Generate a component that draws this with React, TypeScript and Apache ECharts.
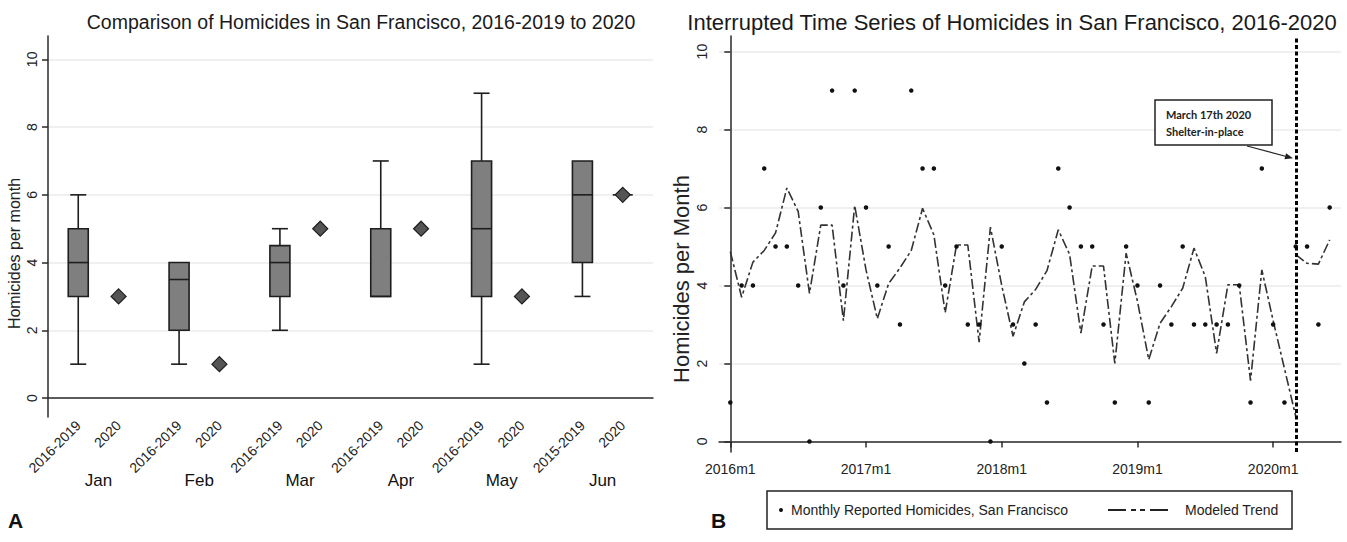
import React, { useEffect, useRef } from "react";
import * as echarts from "echarts";

// ---------- Panel A: box plots by month ----------
const monthNames = ["Jan", "Feb", "Mar", "Apr", "May", "Jun"];
const periodLabels = ["2016-2019", "2016-2019", "2016-2019", "2016-2019", "2016-2019", "2015-2019"];
const currentLabel = "2020";
const boxMin = [1, 1, 2, 3, 1, 3];
const boxQ1 = [3, 2, 3, 3, 3, 4];
const boxMedian = [4, 3.5, 4, 3, 5, 6];
const boxQ3 = [5, 4, 4.5, 5, 7, 7];
const boxMax = [6, 4, 5, 7, 9, 7];
const values2020 = [3, 1, 5, 5, 3, 6];
const yTicks = [0, 2, 4, 6, 8, 10];

// ---------- Panel B: interrupted time series ----------
const yearTickLabels = ["2016m1", "2017m1", "2018m1", "2019m1", "2020m1"];
const yearTickMonths = [0, 12, 24, 36, 48];
// months since 2016m1 (0 = 2016m1 ... 53 = 2020m6)
const monthlyHomicides = [
  1, 4, 4, 7, 5, 5, 4, 0, 6, 9, 4, 9,
  6, 4, 5, 3, 9, 7, 7, 4, 5, 3, 3, 0,
  5, 3, 2, 3, 1, 7, 6, 5, 5, 3, 1, 5,
  4, 1, 4, 3, 5, 3, 3, 3, 3, 4, 1, 7,
  3, 1, 5, 5, 3, 6,
];
const trendPre = [
  4.87, 3.7, 4.6, 4.9, 5.35, 6.5, 5.9, 3.8, 5.55, 5.55, 3.1, 6.05,
  4.4, 3.15, 4.05, 4.45, 4.9, 5.98, 5.3, 3.3, 5.04, 5.04, 2.55, 5.5,
  4.0, 2.7, 3.58, 3.9, 4.38, 5.43, 4.8, 2.78, 4.5, 4.5, 2.0, 4.83,
  3.6, 2.1, 3.03, 3.46, 3.93, 4.96, 4.23, 2.26, 4.02, 4.02, 1.56, 4.4,
  3.1, 1.87, 0.64,
];
const trendPost = [4.79, 4.57, 4.55, 5.17];
const shelterMonth = 50;

const SLOTS = 30;
const FONT = "'Liberation Sans', Arial, Helvetica, sans-serif";

export default function App() {
  const ref = useRef<HTMLDivElement>(null);

  useEffect(() => {
    if (!ref.current) return;
    const chart = echarts.init(ref.current, null, { renderer: "svg" });

    const slotIds = Array.from({ length: SLOTS }, (_, i) => "s" + i);
    const slotText: string[] = Array(SLOTS).fill("");
    const monthText: string[] = Array(SLOTS).fill("");
    monthNames.forEach((m, g) => {
      slotText[1 + 5 * g] = periodLabels[g];
      slotText[3 + 5 * g] = currentLabel;
      monthText[2 + 5 * g] = m;
    });

    const boxData = monthNames.map((_, g) => [1 + 5 * g, boxMin[g], boxQ1[g], boxMedian[g], boxQ3[g], boxMax[g]]);
    const diamondData = values2020.map((v, g) => [3 + 5 * g, v]);
    const junLine = [[3 + 5 * 5, values2020[5]]];

    const scatterData = monthlyHomicides.map((v, i) => [i, v]);
    const preData = trendPre.map((v, i) => [i, v]);
    const postData = trendPost.map((v, i) => [shelterMonth + i, v]);

    const axisLineStyle = { color: "#2a2a2a", width: 1.5 };
    const gridLine = { show: true, lineStyle: { color: "#ebebeb", width: 1.5 } };

    const option: any = {
      animation: false,
      backgroundColor: "#ffffff",
      textStyle: { fontFamily: FONT },
      title: [
        {
          text: "Comparison of Homicides in San Francisco, 2016-2019 to 2020",
          left: 356,
          top: 7,
          textAlign: "center",
          textStyle: { fontFamily: FONT, fontSize: 19.5, fontWeight: "normal", color: "#1a1a1a" },
        },
        {
          text: "Interrupted Time Series of Homicides in San Francisco, 2016-2020",
          left: 1007,
          top: 6,
          textAlign: "center",
          textStyle: { fontFamily: FONT, fontSize: 22, fontWeight: "normal", color: "#1a1a1a" },
        },
      ],
      grid: [
        { left: 48, top: 36, width: 605, height: 381, containLabel: false },
        { left: 719, top: 36, width: 622, height: 416, containLabel: false },
      ],
      xAxis: [
        {
          type: "category",
          gridIndex: 0,
          data: slotIds,
          boundaryGap: true,
          axisLine: { lineStyle: axisLineStyle },
          axisTick: { show: false },
          splitLine: { show: false },
          axisLabel: {
            interval: 0,
            rotate: 45,
            margin: 6,
            fontSize: 14,
            color: "#222",
            fontFamily: FONT,
            formatter: (_v: string, i: number) => slotText[i],
          },
        },
        {
          type: "category",
          gridIndex: 0,
          data: slotIds,
          boundaryGap: true,
          position: "bottom",
          axisLine: { show: false },
          axisTick: { show: false },
          splitLine: { show: false },
          axisLabel: {
            interval: 0,
            margin: 55,
            fontSize: 17,
            color: "#111",
            fontFamily: FONT,
            formatter: (_v: string, i: number) => monthText[i],
          },
        },
        {
          type: "value",
          gridIndex: 1,
          min: -1,
          max: 54,
          axisLine: { lineStyle: axisLineStyle },
          axisTick: { show: true, length: 6, customValues: yearTickMonths, lineStyle: { color: "#2a2a2a", width: 1.5 } },
          splitLine: { show: false },
          axisLabel: {
            customValues: yearTickMonths,
            margin: 10,
            fontSize: 14,
            color: "#222",
            fontFamily: FONT,
            formatter: (v: number) => yearTickLabels[yearTickMonths.indexOf(v)] ?? "",
          },
        },
      ],
      yAxis: [
        {
          type: "value",
          gridIndex: 0,
          min: -0.56,
          max: 10.69,
          name: "Homicides per month",
          nameLocation: "middle",
          nameGap: 26,
          nameRotate: 90,
          nameTextStyle: { fontSize: 16, color: "#222", fontFamily: FONT, padding: [0, 54, 0, 0] },
          axisLine: { show: true, lineStyle: axisLineStyle },
          axisTick: { show: true, length: 6, customValues: yTicks, lineStyle: { color: "#2a2a2a", width: 1.5 } },
          splitLine: gridLine,
          axisLabel: {
            customValues: yTicks,
            rotate: 90,
            margin: 9,
            fontSize: 14,
            color: "#222",
            fontFamily: FONT,
          },
        },
        {
          type: "value",
          gridIndex: 1,
          min: -0.27,
          max: 10.4,
          name: "Homicides per Month",
          nameLocation: "middle",
          nameGap: 27,
          nameRotate: 90,
          nameTextStyle: { fontSize: 22, color: "#222", fontFamily: FONT, padding: [0, 70, 0, 0] },
          axisLine: { show: true, lineStyle: axisLineStyle },
          axisTick: { show: true, length: 6, customValues: yTicks, lineStyle: { color: "#2a2a2a", width: 1.5 } },
          splitLine: gridLine,
          axisLabel: {
            customValues: yTicks,
            rotate: 90,
            margin: 10,
            fontSize: 14,
            color: "#222",
            fontFamily: FONT,
          },
        },
      ],
      series: [
        {
          type: "custom",
          name: "2016-2019",
          xAxisIndex: 0,
          yAxisIndex: 0,
          data: boxData,
          encode: { x: 0, y: [1, 2, 3, 4, 5] },
          renderItem: (_params: any, api: any) => {
            const x = api.value(0);
            const mn = api.coord([x, api.value(1)]);
            const q1 = api.coord([x, api.value(2)]);
            const md = api.coord([x, api.value(3)]);
            const q3 = api.coord([x, api.value(4)]);
            const mx = api.coord([x, api.value(5)]);
            const cx = mn[0];
            const hw = 10;
            const cw = 8;
            const ls = { stroke: "#1e1e1e", lineWidth: 1.6 };
            const children: any[] = [];
            if (mx[1] < q3[1] - 0.5) {
              children.push({ type: "line", shape: { x1: cx, y1: q3[1], x2: cx, y2: mx[1] }, style: ls });
              children.push({ type: "line", shape: { x1: cx - cw, y1: mx[1], x2: cx + cw, y2: mx[1] }, style: ls });
            }
            if (mn[1] > q1[1] + 0.5) {
              children.push({ type: "line", shape: { x1: cx, y1: q1[1], x2: cx, y2: mn[1] }, style: ls });
              children.push({ type: "line", shape: { x1: cx - cw, y1: mn[1], x2: cx + cw, y2: mn[1] }, style: ls });
            }
            children.push({
              type: "rect",
              shape: { x: cx - hw, y: q3[1], width: hw * 2, height: q1[1] - q3[1] },
              style: { fill: "#7f7f7f", stroke: "#1e1e1e", lineWidth: 1.6 },
            });
            children.push({ type: "line", shape: { x1: cx - hw, y1: md[1], x2: cx + hw, y2: md[1] }, style: ls });
            return { type: "group", children };
          },
          z: 3,
        },
        {
          type: "custom",
          name: "2020 line",
          xAxisIndex: 0,
          yAxisIndex: 0,
          data: junLine,
          renderItem: (_params: any, api: any) => {
            const p = api.coord([api.value(0), api.value(1)]);
            return {
              type: "line",
              shape: { x1: p[0] - 10, y1: p[1], x2: p[0] + 10, y2: p[1] },
              style: { stroke: "#1e1e1e", lineWidth: 1.6 },
            };
          },
          z: 3,
        },
        {
          type: "scatter",
          name: "2020",
          xAxisIndex: 0,
          yAxisIndex: 0,
          data: diamondData,
          symbol: "diamond",
          symbolSize: [15, 15],
          itemStyle: { color: "#555555", borderColor: "#1e1e1e", borderWidth: 1.2, opacity: 1 },
          z: 4,
        },
        {
          type: "scatter",
          name: "Monthly Reported Homicides, San Francisco",
          xAxisIndex: 2,
          yAxisIndex: 1,
          data: scatterData,
          symbol: "circle",
          symbolSize: 4.5,
          itemStyle: { color: "#111111", opacity: 1 },
          z: 4,
          markLine: {
            silent: true,
            symbol: ["none", "none"],
            label: { show: false },
            lineStyle: { type: [4, 2.5], width: 3, color: "#000000" },
            data: [{ xAxis: shelterMonth }],
          },
        },
        {
          type: "line",
          name: "Modeled Trend",
          xAxisIndex: 2,
          yAxisIndex: 1,
          data: preData,
          showSymbol: false,
          symbol: "none",
          lineStyle: { color: "#333333", width: 1.6, type: [10, 3, 3, 3] },
          z: 3,
        },
        {
          type: "line",
          name: "Modeled Trend (post)",
          xAxisIndex: 2,
          yAxisIndex: 1,
          data: postData,
          showSymbol: false,
          symbol: "none",
          lineStyle: { color: "#333333", width: 1.6, type: [10, 3, 3, 3] },
          z: 3,
        },
      ],
      graphic: [
        // annotation
        {
          type: "rect",
          shape: { x: 1155, y: 100, width: 117, height: 45 },
          style: { fill: "#ffffff", stroke: "#222222", lineWidth: 1.5 },
          z: 10,
        },
        {
          type: "text",
          x: 1166,
          y: 114,
          style: { text: "March 17th 2020", fontFamily: "Lato, 'Open Sans', sans-serif", fontWeight: "bold", fontSize: 11, fill: "#222", verticalAlign: "middle" },
          z: 11,
        },
        {
          type: "text",
          x: 1166,
          y: 131,
          style: { text: "Shelter-in-place", fontFamily: "Lato, 'Open Sans', sans-serif", fontWeight: "bold", fontSize: 11, fill: "#222", verticalAlign: "middle" },
          z: 11,
        },
        {
          type: "line",
          shape: { x1: 1247, y1: 146, x2: 1290, y2: 157.5 },
          style: { stroke: "#222", lineWidth: 1.2 },
          z: 10,
        },
        {
          type: "polygon",
          shape: { points: [[1293, 158.3], [1284.5, 159.2], [1286.1, 153.2]] },
          style: { fill: "#222" },
          z: 10,
        },
        // legend
        {
          type: "rect",
          shape: { x: 767, y: 491, width: 525, height: 38 },
          style: { fill: "#ffffff", stroke: "#222222", lineWidth: 1.5 },
        },
        { type: "circle", shape: { cx: 781, cy: 510, r: 2 }, style: { fill: "#111" } },
        {
          type: "text",
          x: 791,
          y: 510,
          style: { text: "Monthly Reported Homicides, San Francisco", fontFamily: FONT, fontSize: 14, fill: "#222", verticalAlign: "middle" },
        },
        {
          type: "line",
          shape: { x1: 1108, y1: 510, x2: 1168, y2: 510 },
          style: { stroke: "#222", lineWidth: 2, lineDash: [18, 5, 5, 4, 5, 5] },
        },
        {
          type: "text",
          x: 1185,
          y: 510,
          style: { text: "Modeled Trend", fontFamily: FONT, fontSize: 14, fill: "#222", verticalAlign: "middle" },
        },
        // panel letters
        {
          type: "text",
          x: 8,
          y: 520,
          style: { text: "A", fontFamily: FONT, fontWeight: "bold", fontSize: 21, fill: "#111", verticalAlign: "middle" },
        },
        {
          type: "text",
          x: 711,
          y: 520,
          style: { text: "B", fontFamily: FONT, fontWeight: "bold", fontSize: 21, fill: "#111", verticalAlign: "middle" },
        },
      ],
    };

    chart.setOption(option);
    return () => chart.dispose();
  }, []);

  return (
    <div
      ref={ref}
      style={{ position: "fixed", left: 0, top: 0, width: 1347, height: 542, background: "#ffffff" }}
    />
  );
}
